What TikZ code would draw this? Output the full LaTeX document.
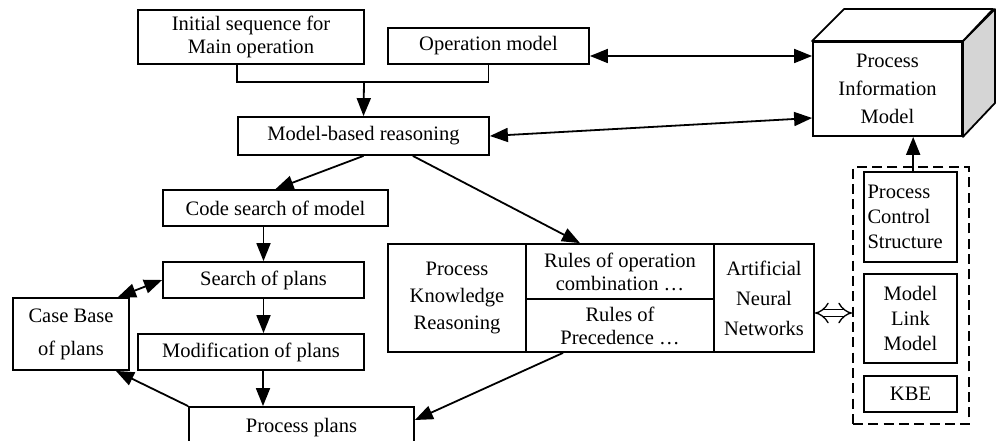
\documentclass[tikz,border=0pt]{standalone}
\usepackage{fontspec}
\setmainfont{Liberation Serif}
\usetikzlibrary{arrows.meta}
\begin{document}
\begin{tikzpicture}[x=0.75pt,y=-0.75pt,
  box/.style n args={2}{draw, line width=1.35pt, align=center, inner sep=0pt,
    minimum width=#1*0.75pt, minimum height=#2*0.75pt, font=\fontsize{15.4}{17.25}\selectfont},
  ls/.style={font=\fontsize{15.4}{#1}\selectfont},
  arr/.style={line width=1.35pt, -{Triangle[length=13.5pt,width=10.5pt]}},
  darr/.style={line width=1.35pt, {Triangle[length=13.5pt,width=10.5pt]}-{Triangle[length=13.5pt,width=10.5pt]}},
  wire/.style={line width=1.35pt}]
\path[use as bounding box, clip] (0,0) rectangle (1002,441);

% left column
\node[box={226}{54}] (init) at (251,37) {Initial sequence for\\Main operation};
\node[box={201}{36}] (opm) at (488.5,46) {Operation model};
\node[box={251}{38}] (mbr) at (363.5,136) {Model-based reasoning};
\node[box={225}{36}] (code) at (275.5,208) {Code search of model};
\node[box={201}{36}] (search) at (263.5,280) {Search of plans};
\node[box={226}{36}] (modif) at (251,352) {Modification of plans};
\node[box={225}{42}] (plans) at (301.5,428) {Process plans};
\node[box={116}{72}, ls=24.75] (case) at (71,334) {Case Base\\of plans};

% knowledge block
\node[box={138}{108}, ls=20.25] (pkr) at (457,298) {Process\\Knowledge\\Reasoning};
\node[box={188}{55}] (roc) at (620,271.5) {Rules of operation\\combination \dots};
\node[box={188}{53}] (rop) at (620,325.5) {Rules of\\Precedence \dots};
\node[box={100}{108}, ls=22.5] (ann) at (764,298) {Artificial\\Neural\\Networks};

% process information model (cuboid)
\node[box={149}{94}, ls=21] (pim) at (887.5,89) {Process\\Information\\Model};
\draw[wire, fill=gray!33, line join=round] (pim.north east) -- ++(32,-32) -- ++(0,94) -- (pim.south east) -- cycle;
\draw[wire, fill=white, line join=round] (pim.north west) -- ++(32,-32) -- ++(149,0) -- (pim.north east) -- cycle;

% dashed group
\node[draw, line width=1.35pt, dash pattern=on 7.5pt off 4pt, minimum width=116*0.75pt,
  minimum height=257*0.75pt, inner sep=0pt] (grp) at (911,295.5) {};
\node[box={93}{90}, ls=18.75, align=left, text width=86*0.75pt] (pcs) at (910.5,217) {Process\\Control\\Structure};
\node[box={93}{89}, ls=18.75] (mlm) at (910.5,318.5) {Model\\Link\\Model};
\node[box={93}{36}] (kbe) at (910.5,394) {KBE};

% connectors
\coordinate (j) at (364,82);
\draw[wire] ([xshift=-10.5pt]init.south) |- (j) -| (opm.south);
\draw[arr] (j) -- (mbr.north);
\draw[darr] ([yshift=-7.5pt]opm.east) -- ([yshift=-7.5pt]opm.east -| pim.west);
\draw[darr] (mbr.east) -- ([yshift=-21.75pt]pim.west);
\draw[arr] (mbr.south) -- (code.north);
\draw[arr] ([xshift=37pt]mbr.south) -- ([xshift=-30pt]roc.north);
\draw[arr] (search.north |- code.south) -- (search.north);
\draw[arr] (search.south) -- (search.south |- modif.north);
\draw[arr] ([xshift=9pt]modif.south) -- ([xshift=9pt]modif.south |- plans.north);
\draw[darr] (search.west) -- ([xshift=-9pt]case.north east);
\draw[arr] (plans.north west) -- ([xshift=-10.5pt]case.south east);
\draw[arr] ([xshift=-42.75pt]rop.south) -- ([yshift=6pt]plans.east);
\draw[arr] ([xshift=2pt]pcs.north) -- ([xshift=2pt]pcs.north |- pim.south);
\draw[line width=1pt, double distance=4.5pt, {Implies}-{Implies}]
  ([yshift=-11.25pt]ann.east) -- ([yshift=-11.25pt]ann.east -| grp.west);
\end{tikzpicture}
\end{document}
